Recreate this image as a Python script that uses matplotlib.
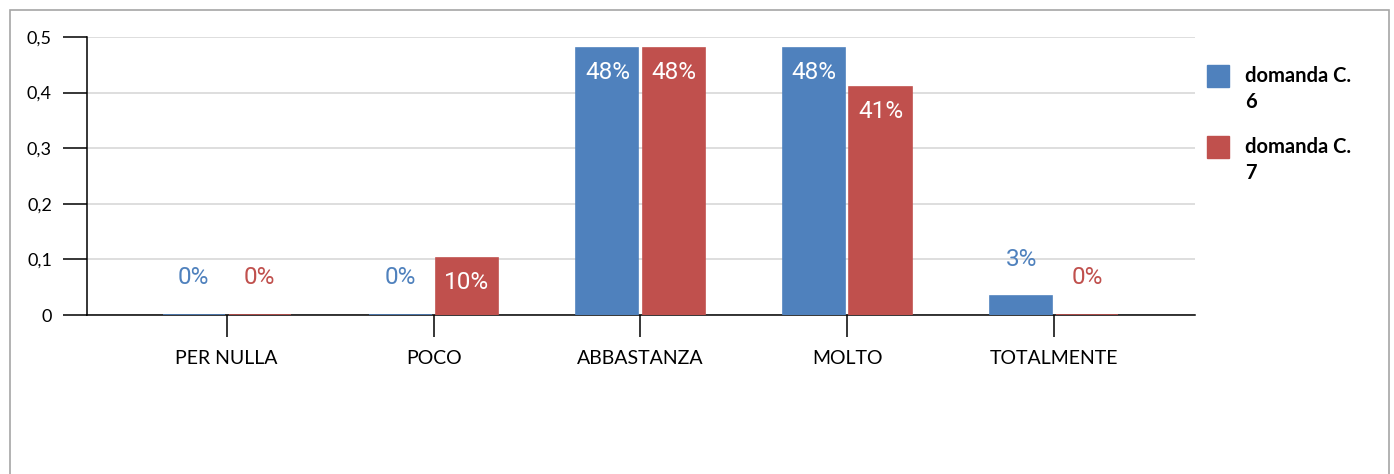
import matplotlib.pyplot as plt
from matplotlib.patches import Rectangle
import numpy as np

# --- dati ---
categorie = ["PER NULLA", "POCO", "ABBASTANZA", "MOLTO", "TOTALMENTE"]
serie_nomi = ["domanda C.\n6", "domanda C.\n7"]
domanda_c6 = [0.0, 0.0, 0.48, 0.48, 0.034]
domanda_c7 = [0.0, 0.102, 0.48, 0.41, 0.0]
y_ticks = [0, 0.1, 0.2, 0.3, 0.4, 0.5]
y_tick_labels = ["0", "0,1", "0,2", "0,3", "0,4", "0,5"]

colori = ["#4F81BD", "#C0504D"]
W, H = 1394, 474
PX = 72 / 100  # pixel -> punti a dpi 100

fig = plt.figure(figsize=(W / 100, H / 100), dpi=100)
ax = fig.add_axes([87 / W, 1 - 315 / H, (1195 - 87) / W, (315 - 37) / H])

x = np.arange(len(categorie))
larghezza = 0.30
offset = 0.16

for i, (valori, colore) in enumerate(zip([domanda_c6, domanda_c7], colori)):
    pos = x + (i * 2 - 1) * offset
    ax.bar(pos, valori, width=larghezza, color=colore, edgecolor=colore,
           linewidth=1.2, zorder=3)
    for xp, v in zip(pos, valori):
        testo = f"{round(v * 100):.0f}%"
        if v > 0.07:
            # etichetta dentro la barra
            ax.annotate(testo, (xp, v), xytext=(0, -24 * PX), textcoords="offset points",
                        ha="center", va="center", color="white", fontsize=17.5,
                        family="Roboto", zorder=4)
        else:
            # etichetta sopra la barra
            ax.annotate(testo, (xp, v), xytext=(0, 37 * PX), textcoords="offset points",
                        ha="center", va="center", color=colore, fontsize=17.5,
                        family="Roboto", zorder=4)

ax.set_xlim(-0.675, 4.68)
ax.set_ylim(0, 0.5)
ax.set_yticks(y_ticks)
ax.set_yticklabels(y_tick_labels, family="Lato", fontsize=13)
ax.set_xticks(x)
ax.set_xticklabels(categorie, family="Lato", fontsize=14)
ax.tick_params(axis="y", length=24 * PX, width=1.1, pad=8, colors="black")
ax.tick_params(axis="x", length=22 * PX, width=1.1, pad=9, colors="black")

ax.grid(axis="y", color="#D4D4D4", linewidth=1.1, zorder=0)
ax.set_axisbelow(True)
for lato in ["top", "right"]:
    ax.spines[lato].set_visible(False)
for lato in ["left", "bottom"]:
    ax.spines[lato].set_linewidth(1.1)
    ax.spines[lato].set_color("black")

# legenda manuale
for j, (nome, colore) in enumerate(zip(serie_nomi, colori)):
    y0 = 65 + j * 71
    fig.patches.append(Rectangle((1207 / W, 1 - (y0 + 22) / H), 22 / W, 22 / H,
                                 transform=fig.transFigure, color=colore))
    fig.text(1245 / W, 1 - (y0 + 1) / H, nome, family="Lato", fontweight="bold",
             fontsize=14.5, va="top", ha="left", linespacing=1.4)

# cornice
fig.patches.append(Rectangle((9.5 / W, -0.05), (1389 - 9.5) / W, 1 - 10 / H + 0.05,
                             transform=fig.transFigure, fill=False,
                             edgecolor="#A6A6A6", linewidth=1.2))

fig.savefig("out.png", dpi=100)
